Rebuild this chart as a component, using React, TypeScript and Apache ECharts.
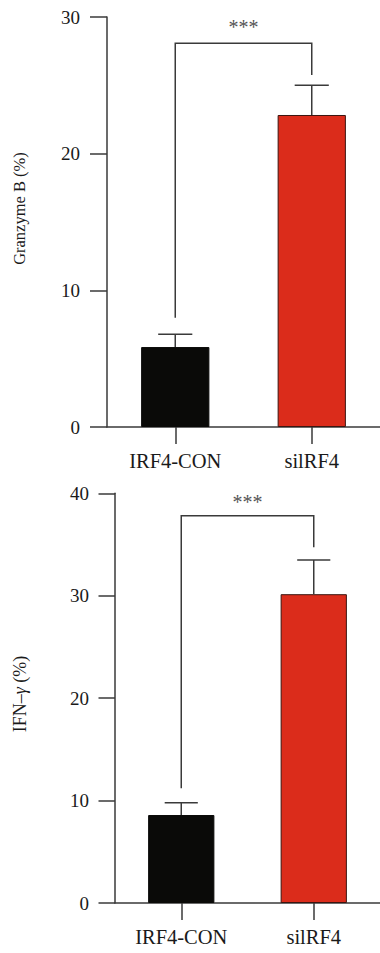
import React, { useEffect, useRef } from "react";
import * as echarts from "echarts";

const categories = ["IRF4-CON", "silRF4"];
const granzymeMeans = [5.85, 22.83];
const granzymeErrors = [0.93, 2.17];
const ifnMeans = [8.59, 30.15];
const ifnErrors = [1.2, 3.35];
const barColors = ["#0a0a08", "#db2c1b"];
const barBorders = ["#0a0a08", "#3b1510"];
// significance bracket: [x0, x1, bracketY, leftLegBottom, rightLegBottom, starY]
const granzymeSig = [0, 1, 28.08, 8.0, 25.76, 29.28];
const ifnSig = [0, 1, 37.8, 11.2, 34.74, 39.18];
const sigLabel = "***";

const FONT = "Liberation Serif";
const AXIS = "#3a3a3a";

function errorRender(params: any, api: any) {
  const x = api.value(0);
  const base = api.coord([x, api.value(1)]);
  const top = api.coord([x, api.value(1) + api.value(2)]);
  const half = api.size([1, 0])[0] * 0.125;
  const style = { stroke: AXIS, lineWidth: 1.5 };
  return {
    type: "group",
    children: [
      { type: "line", shape: { x1: base[0], y1: base[1], x2: top[0], y2: top[1] }, style },
      { type: "line", shape: { x1: top[0] - half, y1: top[1], x2: top[0] + half, y2: top[1] }, style },
    ],
  };
}

function sigRender(params: any, api: any) {
  const x0 = api.value(0);
  const x1 = api.value(1);
  const yb = api.value(2);
  const pL = api.coord([x0, api.value(3)]);
  const pLT = api.coord([x0, yb]);
  const pRT = api.coord([x1, yb]);
  const pR = api.coord([x1, api.value(4)]);
  const starY = api.coord([x0, api.value(5)])[1];
  const starX = (pLT[0] + pRT[0]) / 2;
  return {
    type: "group",
    children: [
      {
        type: "polyline",
        shape: { points: [pL, pLT, pRT, pR] },
        style: { stroke: AXIS, lineWidth: 1.5, fill: "none" },
      },
      {
        type: "text",
        x: starX,
        y: starY,
        style: {
          text: sigLabel,
          fill: "#555",
          fontFamily: FONT,
          fontSize: 20,
          align: "center",
          verticalAlign: "middle",
        },
      },
    ],
  };
}

export default function App() {
  const ref = useRef<HTMLDivElement>(null);
  useEffect(() => {
    if (!ref.current) return;
    const chart = echarts.init(ref.current, undefined, { renderer: "svg" });
    const mkX = (gi: number) => ({
      type: "category",
      gridIndex: gi,
      data: categories,
      axisLine: { show: true, lineStyle: { color: AXIS, width: 1.5 } },
      axisTick: { show: true, alignWithLabel: true, length: 17, lineStyle: { color: AXIS, width: 1.5 } },
      axisLabel: { fontFamily: FONT, fontSize: 20.5, color: "#1a1a1a", margin: 23 },
      splitLine: { show: false },
    });
    const mkY = (gi: number, max: number, margin: number, tickLen: number) => ({
      type: "value",
      gridIndex: gi,
      min: 0,
      max,
      interval: 10,
      axisLine: { show: true, lineStyle: { color: AXIS, width: 1.5 } },
      axisTick: { show: true, length: tickLen, lineStyle: { color: AXIS, width: 1.5 } },
      axisLabel: { fontFamily: FONT, fontSize: 19, color: "#1a1a1a", margin },
      splitLine: { show: false },
    });
    const barData = (vals: number[]) =>
      vals.map((v, i) => ({
        value: v,
        itemStyle: { color: barColors[i], borderColor: barBorders[i], borderWidth: 1 },
      }));
    chart.setOption({
      animation: false,
      textStyle: { fontFamily: FONT },
      grid: [
        { left: 107, top: 17, height: 410, width: 274 },
        { left: 115, top: 493.3, height: 409.7, width: 274 },
      ],
      xAxis: [mkX(0), mkX(1)],
      yAxis: [mkY(0, 30, 27, 17), mkY(1, 40, 26, 16.5)],
      graphic: [
        {
          type: "text",
          x: 19.5,
          y: 208.5,
          rotation: Math.PI / 2,
          style: {
            text: "Granzyme B (%)",
            fontFamily: FONT,
            fontSize: 16.5,
            fill: "#1a1a1a",
            align: "center",
            verticalAlign: "middle",
          },
        },
        {
          type: "text",
          x: 19.5,
          y: 694,
          rotation: Math.PI / 2,
          style: {
            text: "{n|IFN–}{g|γ}{n| (%)}",
            align: "center",
            verticalAlign: "middle",
            fontFamily: FONT,
            fontSize: 18,
            rich: {
              n: { fontFamily: FONT, fontSize: 18, fill: "#1a1a1a" },
              g: { fontFamily: FONT, fontSize: 18, fontStyle: "italic", fill: "#1a1a1a" },
            },
          },
        },
      ],
      series: [
        {
          type: "bar",
          xAxisIndex: 0,
          yAxisIndex: 0,
          barWidth: "50%",
          data: barData(granzymeMeans),
        },
        {
          type: "custom",
          xAxisIndex: 0,
          yAxisIndex: 0,
          renderItem: errorRender,
          data: granzymeMeans.map((v, i) => [i, v, granzymeErrors[i]]),
          z: 3,
        },
        {
          type: "custom",
          xAxisIndex: 0,
          yAxisIndex: 0,
          renderItem: sigRender,
          data: [granzymeSig],
          z: 3,
        },
        {
          type: "bar",
          xAxisIndex: 1,
          yAxisIndex: 1,
          barWidth: "50%",
          data: barData(ifnMeans),
        },
        {
          type: "custom",
          xAxisIndex: 1,
          yAxisIndex: 1,
          renderItem: errorRender,
          data: ifnMeans.map((v, i) => [i, v, ifnErrors[i]]),
          z: 3,
        },
        {
          type: "custom",
          xAxisIndex: 1,
          yAxisIndex: 1,
          renderItem: sigRender,
          data: [ifnSig],
          z: 3,
        },
      ],
    });
    return () => chart.dispose();
  }, []);
  return (
    <div
      ref={ref}
      style={{ position: "absolute", left: 0, top: 0, width: 380, height: 953, background: "#fff" }}
    />
  );
}
